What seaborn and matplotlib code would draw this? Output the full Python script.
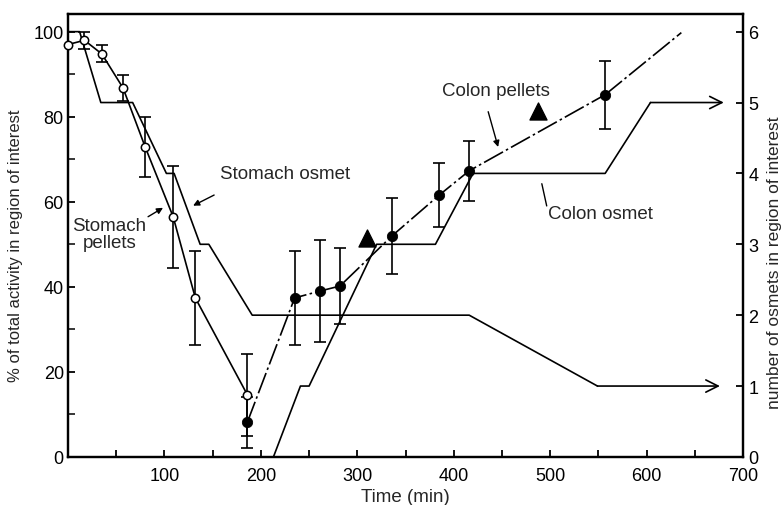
import matplotlib
matplotlib.use("Agg")
import matplotlib.pyplot as plt
import seaborn as sns
import pandas as pd

# ---------------- data ----------------
# Stomach pellets (open circles), % of total activity
stomach_pellets_t = [0, 17, 35, 57, 80, 109, 132, 186]
stomach_pellets_v = [97, 98, 94.8, 86.8, 72.9, 56.5, 37.4, 14.6]
stomach_pellets_err = [0, 2, 2, 3, 7, 12, 11, 9.6]

# Colon pellets (filled circles), % of total activity
colon_pellets_t = [186, 235, 261, 282, 336, 385, 416, 557]
colon_pellets_v = [8.2, 37.4, 39, 40.2, 52, 61.6, 67.3, 85.2]
colon_pellets_err = [6, 11, 12, 9, 9, 7.5, 7, 8]
# extension of the colon pellet curve beyond the last point
colon_trend_t = [557, 636]
colon_trend_v = [85.2, 99.8]

# Triangles
triangle_t = [310, 487]
triangle_v = [51.5, 81.4]

# Number of osmets (right axis)
stomach_osmet_t = [0, 12, 34, 67, 102, 110, 137, 146, 191, 416, 549, 676]
stomach_osmet_n = [6, 6, 5, 5, 4, 4, 3, 3, 2, 2, 1, 1]
colon_osmet_t = [213, 241, 250, 320, 381, 420, 557, 604, 680]
colon_osmet_n = [0, 1, 1, 3, 3, 4, 4, 5, 5]

x_ticks = list(range(0, 701, 50))
x_labels = ["" if (t % 100 or t == 0) else str(t) for t in x_ticks]
y_left_ticks = [0, 20, 40, 60, 80, 100]
y_right_ticks = [0, 1, 2, 3, 4, 5, 6]

# ---------------- style ----------------
sns.set_theme(style="ticks")
plt.rcParams['font.family'] = ['Liberation Sans', 'DejaVu Sans']
plt.rcParams['axes.linewidth'] = 1.6

fig = plt.figure(figsize=(7.82, 5.06), dpi=100)
ax = fig.add_axes([0.087, 0.095, 0.8632, 0.8755])
ax2 = ax.twinx()

K = "black"
LW = 1.2

sp = pd.DataFrame({"t": stomach_pellets_t, "v": stomach_pellets_v, "e": stomach_pellets_err})
cp = pd.DataFrame({"t": colon_pellets_t, "v": colon_pellets_v, "e": colon_pellets_err})
ct = pd.DataFrame({"t": colon_trend_t, "v": colon_trend_v})
tr = pd.DataFrame({"t": triangle_t, "v": triangle_v})
so = pd.DataFrame({"t": stomach_osmet_t, "n": stomach_osmet_n})
co = pd.DataFrame({"t": colon_osmet_t, "n": colon_osmet_n})

# stomach pellets
sns.lineplot(data=sp, x="t", y="v", ax=ax, color=K, lw=LW, sort=False, estimator=None)
spe = sp[sp.e > 0]
ax.errorbar(spe.t, spe.v, yerr=spe.e, fmt="none", ecolor=K, elinewidth=LW, capsize=4, capthick=LW)
sns.scatterplot(data=sp, x="t", y="v", ax=ax, marker="o", s=36, facecolor="white",
                edgecolor=K, linewidth=1.1, zorder=5, clip_on=False)

# colon pellets
dash = (0, (13, 2, 1.5, 2))
sns.lineplot(data=cp, x="t", y="v", ax=ax, color=K, lw=LW, sort=False, estimator=None,
             linestyle=dash)
sns.lineplot(data=ct, x="t", y="v", ax=ax, color=K, lw=LW, sort=False, estimator=None,
             linestyle=dash)
ax.errorbar(cp.t, cp.v, yerr=cp.e, fmt="none", ecolor=K, elinewidth=LW, capsize=4, capthick=LW)
sns.scatterplot(data=cp, x="t", y="v", ax=ax, marker="o", s=55, color=K, edgecolor=K, zorder=5)

# triangles
sns.scatterplot(data=tr, x="t", y="v", ax=ax, marker="^", s=150, color=K, edgecolor=K, zorder=5)

# osmets (right axis)
sns.lineplot(data=so.iloc[:-1], x="t", y="n", ax=ax2, color=K, lw=LW, sort=False, estimator=None)
sns.lineplot(data=co.iloc[:-1], x="t", y="n", ax=ax2, color=K, lw=LW, sort=False, estimator=None)
for df in (so, co):
    ax2.annotate("", xy=(df.t.iloc[-1], df.n.iloc[-1]), xytext=(df.t.iloc[-2], df.n.iloc[-2]),
                 arrowprops=dict(arrowstyle="->", lw=LW, color=K, mutation_scale=22,
                                 shrinkA=0, shrinkB=0))

# ---------------- axes ----------------
ax.set_xlim(0, 700)
ax.set_ylim(0, 104.2)
ax2.set_ylim(0, 6.25)
ax.set_xticks(x_ticks)
ax.set_xticklabels(x_labels)
ax.set_yticks(y_left_ticks)
ax.set_yticks(list(range(10, 100, 20)), minor=True)
ax2.set_yticks(y_right_ticks)
for a in (ax, ax2):
    a.tick_params(direction="in", length=5, width=1.3, labelsize=13, colors=K, pad=3)
    a.tick_params(which="minor", direction="in", length=5, width=1.3)
    for s in a.spines.values():
        s.set_visible(True)
        s.set_linewidth(1.6)
        s.set_color(K)
ax.tick_params(axis="x", pad=7)
ax2.tick_params(axis="y", pad=4)

ax.set_xlabel("Time (min)", fontsize=13.5, labelpad=3)
ax.set_ylabel("% of total activity in region of interest", fontsize=12)
ax.yaxis.set_label_coords(-0.066, 0.48)
ax2.set_ylabel("number of osmets in region of interest", fontsize=12.5, rotation=90)
ax2.yaxis.set_label_coords(1.035, 0.44)

# ---------------- annotations ----------------
FS = 13.5
arrow = dict(arrowstyle="-|>", lw=1.0, color=K, mutation_scale=9, shrinkA=0, shrinkB=0)
ax.text(158, 66.6, "Stomach osmet", fontsize=FS, ha="left", va="center")
ax.annotate("", xy=(129.7, 59.1), xytext=(151.5, 61.6), arrowprops=arrow)
ax.text(43, 52.5, "Stomach\npellets", fontsize=FS, ha="center", va="center", linespacing=1.0)
ax.annotate("", xy=(98.5, 58.6), xytext=(83, 56.5), arrowprops=arrow)
ax.text(444, 86.1, "Colon pellets", fontsize=FS, ha="center", va="center")
ax.annotate("", xy=(446, 72.9), xytext=(435.7, 81.2), arrowprops=arrow)
ax.text(552, 57.2, "Colon osmet", fontsize=FS, ha="center", va="center")
ax.annotate("", xy=(490.7, 64.9), xytext=(497, 58.4),
            arrowprops=dict(arrowstyle="-", lw=1.0, color=K))

ax.set_zorder(ax2.get_zorder() + 1)
ax.patch.set_visible(False)

fig.savefig("out.png", dpi=100)
